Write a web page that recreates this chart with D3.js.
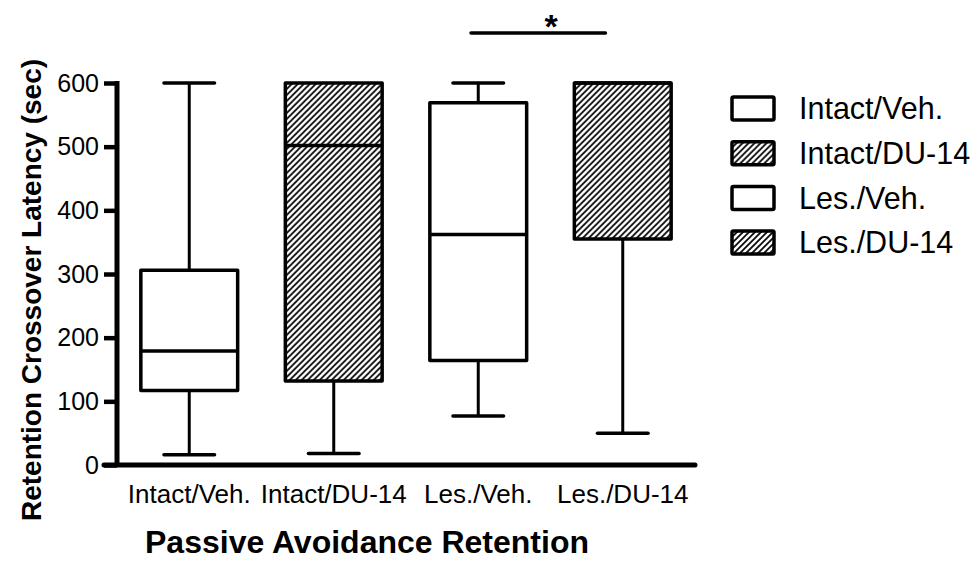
<!DOCTYPE html>
<html>
<head>
<meta charset="utf-8">
<script src="https://cdn.jsdelivr.net/npm/d3@7"></script>
<style>
  body { margin: 0; background: #fff; }
  text { font-family: "Liberation Sans", Arial, sans-serif; fill: #000; }
</style>
</head>
<body>
<svg id="chart" width="980" height="564"></svg>
<script>
// group names, box stats (sec)
var categories = ['Intact/Veh.', 'Intact/DU-14', 'Les./Veh.', 'Les./DU-14'];
var mins    = [16, 18, 77, 50];
var q1s     = [117, 132, 164, 355];
var medians = [179, 502, 362, 600];
var q3s     = [306, 600, 569, 600];
var maxs    = [600, 600, 600, 600];
var hatched = [false, true, false, true];
var yTicks  = [0, 100, 200, 300, 400, 500, 600];

var svg = d3.select('#chart');

var x = d3.scaleBand().domain(categories).range([117, 695]).padding(0);
var y = d3.scaleLinear().domain([0, 600]).range([465, 83]);

// diagonal hatch
var defs = svg.append('defs');
defs.append('pattern')
    .attr('id', 'hatch')
    .attr('patternUnits', 'userSpaceOnUse')
    .attr('width', 6).attr('height', 6)
  .append('path')
    .attr('d', 'M-1,1 l2,-2 M0,6 l6,-6 M5,7 l2,-2')
    .attr('stroke', '#000')
    .attr('stroke-width', 1.7);

var boxes = categories.map(function(c, i) {
    return {name: c, min: mins[i], q1: q1s[i], med: medians[i], q3: q3s[i], max: maxs[i], hatch: hatched[i]};
});

var bw = x.bandwidth();
var boxW = bw * 0.67;
var capW = bw * 0.35;

var g = svg.append('g')
    .selectAll('g.box')
    .data(boxes).enter()
    .append('g').attr('class', 'box')
    .attr('transform', function(d) { return 'translate(' + (x(d.name) + bw / 2) + ',0)'; });

// whiskers
g.append('line')
    .attr('x1', 0).attr('x2', 0)
    .attr('y1', function(d) { return y(d.q3); })
    .attr('y2', function(d) { return y(d.max); })
    .attr('stroke', '#000').attr('stroke-width', 3);
g.append('line')
    .attr('x1', 0).attr('x2', 0)
    .attr('y1', function(d) { return y(d.q1); })
    .attr('y2', function(d) { return y(d.min); })
    .attr('stroke', '#000').attr('stroke-width', 3);
// caps
g.filter(function(d) { return d.max > d.q3; })
    .append('line')
    .attr('x1', -capW / 2).attr('x2', capW / 2)
    .attr('y1', function(d) { return y(d.max); })
    .attr('y2', function(d) { return y(d.max); })
    .attr('stroke', '#000').attr('stroke-width', 3.5).attr('stroke-linecap', 'round');
g.append('line')
    .attr('x1', -capW / 2).attr('x2', capW / 2)
    .attr('y1', function(d) { return y(d.min); })
    .attr('y2', function(d) { return y(d.min); })
    .attr('stroke', '#000').attr('stroke-width', 3.5).attr('stroke-linecap', 'round');

// boxes
g.append('rect')
    .attr('x', -boxW / 2)
    .attr('width', boxW)
    .attr('y', function(d) { return y(d.q3); })
    .attr('height', function(d) { return y(d.q1) - y(d.q3); })
    .attr('fill', function(d) { return d.hatch ? 'url(#hatch)' : '#fff'; })
    .attr('stroke', '#000').attr('stroke-width', 3.5).attr('stroke-linejoin', 'round');
g.append('line')
    .attr('x1', -boxW / 2).attr('x2', boxW / 2)
    .attr('y1', function(d) { return y(d.med); })
    .attr('y2', function(d) { return y(d.med); })
    .attr('stroke', '#000').attr('stroke-width', 3.5);

// axes
var yAxis = svg.append('g')
    .attr('transform', 'translate(117,0)')
    .call(d3.axisLeft(y).tickValues(yTicks).tickSize(13).tickPadding(5));
yAxis.select('.domain').remove();
yAxis.selectAll('.tick line').attr('stroke', '#000').attr('stroke-width', 4.5);
yAxis.selectAll('.tick text').attr('font-size', 25).attr('fill', '#000')
    .style('font-family', '"Liberation Sans", Arial, sans-serif');
svg.append('line')
    .attr('x1', 117).attr('x2', 117)
    .attr('y1', y(600) - 2).attr('y2', y(0))
    .attr('stroke', '#000').attr('stroke-width', 5);

var xAxis = svg.append('g')
    .attr('transform', 'translate(0,' + y(0) + ')')
    .call(d3.axisBottom(x).tickSize(0).tickPadding(0));
xAxis.select('.domain').remove();
xAxis.selectAll('.tick text')
    .attr('y', 38).attr('dy', null)
    .attr('font-size', 26).attr('fill', '#000')
    .style('font-family', '"Liberation Sans", Arial, sans-serif');
svg.append('line')
    .attr('x1', 104).attr('x2', 695)
    .attr('y1', y(0)).attr('y2', y(0))
    .attr('stroke', '#000').attr('stroke-width', 5).attr('stroke-linecap', 'round');

// axis titles
svg.append('text')
    .attr('x', 367).attr('y', 553)
    .attr('text-anchor', 'middle')
    .attr('font-size', 32).attr('font-weight', 'bold')
    .text('Passive Avoidance Retention');
svg.append('text')
    .attr('transform', 'translate(41,290) rotate(-90)')
    .attr('text-anchor', 'middle')
    .attr('font-size', 28).attr('font-weight', 'bold')
    .text('Retention Crossover Latency (sec)');

// significance bar
var sx1 = x('Les./Veh.') + bw * 0.45;
var sx2 = x('Les./DU-14') + bw * 0.38;
svg.append('line')
    .attr('x1', sx1).attr('x2', sx2)
    .attr('y1', 33).attr('y2', 33)
    .attr('stroke', '#000').attr('stroke-width', 3.5).attr('stroke-linecap', 'round');
svg.append('text')
    .attr('x', (sx1 + sx2) / 2 + 13).attr('y', 38)
    .attr('text-anchor', 'middle')
    .attr('font-size', 34).attr('font-weight', 'bold')
    .text('*');

// legend
var legend = svg.append('g').selectAll('g')
    .data(boxes).enter()
    .append('g')
    .attr('transform', function(d, i) { return 'translate(732,' + (97 + i * 44.7) + ')'; });
legend.append('rect')
    .attr('width', 42).attr('height', 23)
    .attr('fill', function(d) { return d.hatch ? 'url(#hatch)' : '#fff'; })
    .attr('stroke', '#000').attr('stroke-width', 3.5).attr('rx', 1.5);
legend.append('text')
    .attr('x', 67).attr('y', 11.5).attr('dy', '0.35em')
    .attr('font-size', 30.5)
    .text(function(d) { return d.name; });
</script>
</body>
</html>
